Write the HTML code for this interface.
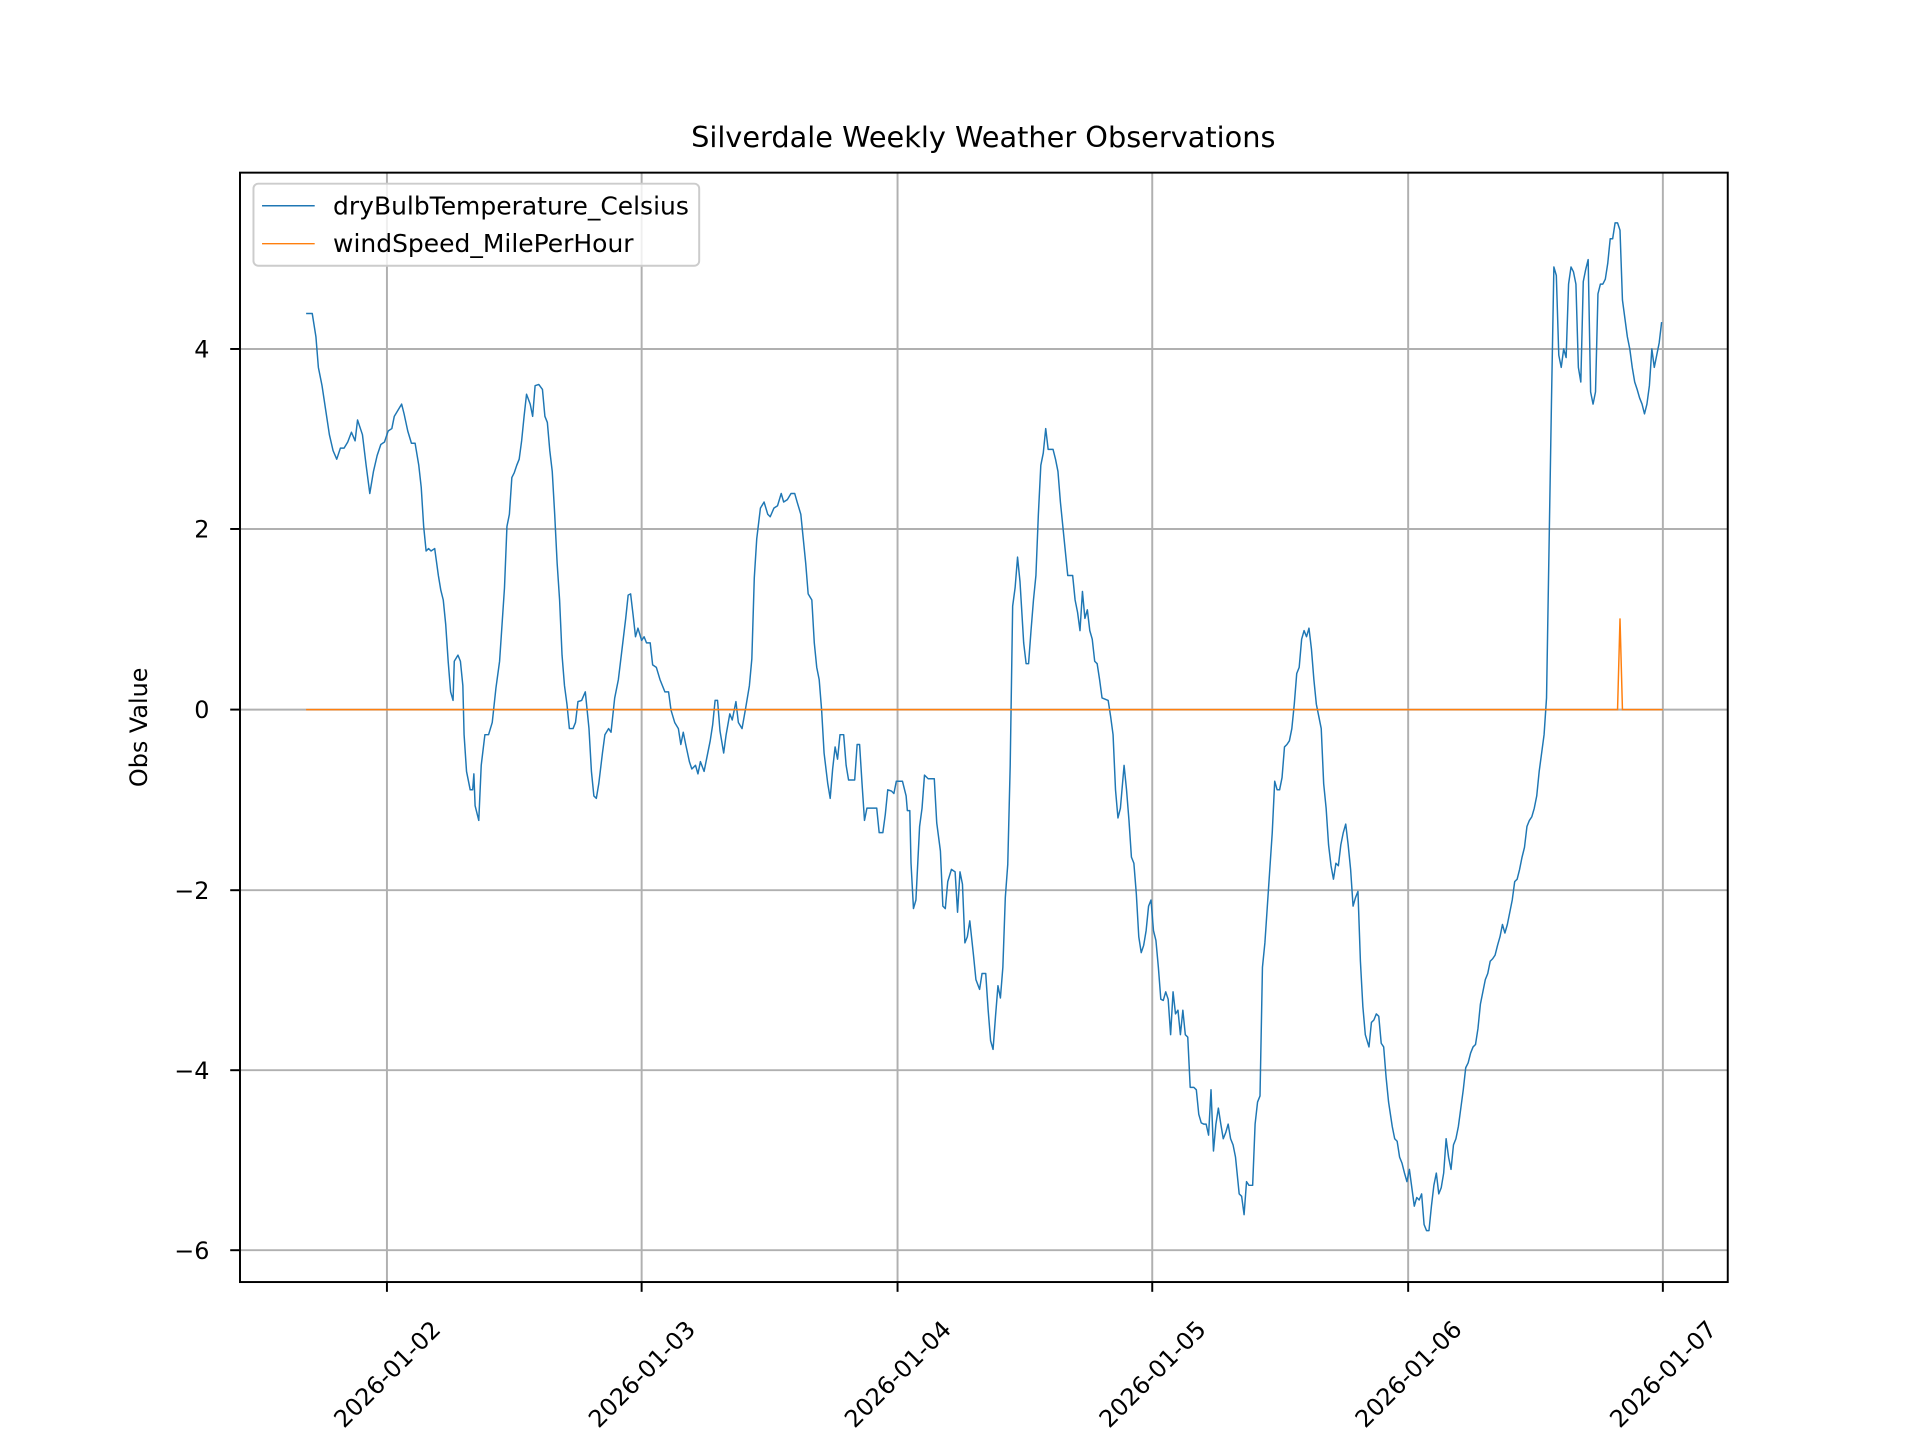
<!DOCTYPE html>
<html><head><meta charset="utf-8"><style>html,body{margin:0;padding:0;background:#fff}svg{display:block}</style></head>
<body>
<svg width="1920" height="1440" viewBox="0 0 1568 1176" xmlns="http://www.w3.org/2000/svg" font-family="'DejaVu Sans','Liberation Sans',sans-serif">
<rect width="1568" height="1176" fill="#fff"/>
<g stroke="#b0b0b0" stroke-width="1.6">
<line x1="316" y1="141" x2="316" y2="1047"/><line x1="524" y1="141" x2="524" y2="1047"/><line x1="733" y1="141" x2="733" y2="1047"/><line x1="941" y1="141" x2="941" y2="1047"/><line x1="1150" y1="141" x2="1150" y2="1047"/><line x1="1358" y1="141" x2="1358" y2="1047"/>
<line x1="196" y1="285" x2="1411" y2="285"/><line x1="196" y1="432" x2="1411" y2="432"/><line x1="196" y1="579.5" x2="1411" y2="579.5"/><line x1="196" y1="727" x2="1411" y2="727"/><line x1="196" y1="874" x2="1411" y2="874"/><line x1="196" y1="1021" x2="1411" y2="1021"/>
</g>
<polyline fill="none" stroke="#1f77b4" stroke-width="1.2" stroke-linejoin="round" points="250,256 255,256 258,275 260,300 263,315 266,335 269,355 272,368 275,375 278,366 281,366 284,361 287,353 290,360 292,343 296,355 299,380 302,403 305,385 308,372 311,363 314,361 317,352 320,350 322,340 325,335 328,330 330,338 333,352 336,362 339,362 342,380 344,398 346,430 348,450 350,448 352,450 355,448 358,470 360,482 362,490 364,510 366,540 368,565 370,572 371,540 374,535 376,540 378,560 379,600 381,630 384,645 386,645 387,632 388,658 391,670 393,625 396,600 399,600 402,590 405,562 408,540 410,510 412,480 414,430 416,420 418,390 420,386 422,380 424,375 426,360 428,340 430,322 433,330 435,340 437,315 440,314 443,318 445,340 447,345 449,368 451,385 453,420 455,460 457,490 459,535 461,560 463,575 465,595 468,595 470,590 472,573 475,572 478,565 481,595 483,630 485,650 487,652 489,640 492,615 494,600 497,595 499,598 502,570 505,555 508,530 511,505 513,486 515,485 517,502 519,520 521,513 524,523 526,520 528,525 531,525 533,543 536,545 539,555 541,560 543,565 546,565 548,580 551,590 554,595 556,608 558,598 560,608 563,622 565,628 568,625 570,632 572,622 575,630 577,620 580,605 582,592 584,572 586,572 588,597 591,615 593,600 596,583 598,588 601,573 603,590 606,595 609,578 612,560 614,538 616,472 618,440 621,415 624,410 627,420 629,422 632,415 635,413 638,403 640,410 643,408 646,403 649,403 651,410 654,420 656,440 658,460 660,485 663,490 665,525 667,545 669,555 671,580 673,615 676,640 678,652 680,628 682,610 684,620 686,600 689,600 691,625 693,637 698,637 700,608 702,608 704,640 706,670 708,660 716,660 718,680 721,680 723,665 725,645 728,646 730,648 732,638 737,638 740,650 741,662 743,662 744,705 746,742 748,735 751,675 753,660 755,633 758,636 763,636 765,672 768,695 770,740 772,742 774,720 777,710 780,712 782,745 784,712 786,722 788,770 790,765 792,752 795,780 797,800 800,808 802,795 805,795 807,825 809,850 811,857 813,830 815,805 817,815 819,790 821,733 823,706 825,625 827,495 829,480 831,455 833,475 836,525 838,542 840,542 842,515 844,490 846,470 848,420 850,380 852,370 854,350 856,367 858,367 860,367 862,375 864,385 866,410 868,430 870,450 872,470 876,470 878,490 880,500 882,515 884,483 886,505 888,498 890,515 892,522 894,540 896,542 898,555 900,570 905,572 907,585 909,600 911,645 913,668 915,660 918,625 920,645 922,670 924,700 926,705 928,730 930,765 932,778 934,772 936,760 938,740 940,735 942,760 944,768 946,790 948,816 950,817 952,810 954,816 956,845 958,810 960,828 962,825 964,845 966,825 968,845 970,847 972,888 975,888 977,890 979,910 981,917 983,918 985,918 987,927 989,890 991,940 993,918 995,905 997,918 999,930 1001,925 1003,918 1005,930 1007,935 1009,945 1012,975 1014,977 1016,992 1018,965 1020,968 1023,968 1025,918 1027,900 1029,895 1031,790 1033,770 1035,740 1037,710 1039,680 1041,638 1043,645 1045,645 1047,635 1049,610 1051,608 1053,605 1055,595 1057,575 1059,550 1061,545 1063,522 1065,515 1067,520 1069,513 1071,530 1073,555 1075,575 1077,585 1079,595 1081,640 1083,660 1085,690 1087,707 1089,718 1091,705 1093,707 1095,690 1097,680 1099,673 1101,690 1103,710 1105,740 1107,733 1109,728 1111,785 1113,822 1115,845 1118,855 1120,835 1122,833 1124,828 1126,830 1128,852 1130,855 1132,880 1134,900 1137,920 1139,930 1141,932 1143,945 1145,950 1147,958 1149,965 1151,955 1153,970 1155,985 1157,978 1159,980 1161,975 1163,1000 1165,1005 1167,1005 1169,985 1171,968 1173,958 1175,975 1177,970 1179,958 1181,930 1183,945 1185,955 1187,935 1189,930 1191,920 1193,905 1195,890 1197,872 1199,868 1201,860 1203,855 1205,853 1207,840 1209,820 1211,810 1213,800 1215,795 1217,785 1219,783 1221,780 1223,772 1225,765 1227,755 1229,762 1231,755 1233,745 1235,735 1237,720 1239,718 1241,710 1243,700 1245,692 1247,675 1249,670 1251,667 1253,660 1255,650 1257,630 1259,615 1261,600 1263,570 1265,450 1267,330 1269,218 1271,225 1273,290 1275,300 1277,285 1279,292 1281,232 1283,218 1285,222 1287,232 1289,300 1291,312 1293,230 1295,220 1297,212 1299,320 1301,330 1303,320 1305,240 1307,232 1309,232 1311,228 1313,215 1315,195 1317,195 1319,182 1321,182 1323,188 1325,245 1327,260 1329,275 1331,285 1333,300 1335,312 1337,318 1339,325 1341,330 1343,338 1345,330 1347,315 1349,285 1351,300 1353,290 1355,280 1357,263"/>
<polyline fill="none" stroke="#ff7f0e" stroke-width="1.2" points="250,579.5 1321,579.5 1323,505 1325,579.5 1358,579.5"/>
<rect x="196" y="141" width="1215" height="906" fill="none" stroke="#000" stroke-width="1.6"/>
<g stroke="#000" stroke-width="1.6">
<line x1="316" y1="1047" x2="316" y2="1055"/><line x1="524" y1="1047" x2="524" y2="1055"/><line x1="733" y1="1047" x2="733" y2="1055"/><line x1="941" y1="1047" x2="941" y2="1055"/><line x1="1150" y1="1047" x2="1150" y2="1055"/><line x1="1358" y1="1047" x2="1358" y2="1055"/>
<line x1="188" y1="285" x2="196" y2="285"/><line x1="188" y1="432" x2="196" y2="432"/><line x1="188" y1="579.5" x2="196" y2="579.5"/><line x1="188" y1="727" x2="196" y2="727"/><line x1="188" y1="874" x2="196" y2="874"/><line x1="188" y1="1021" x2="196" y2="1021"/>
</g>
<g font-size="19.5" text-anchor="end" fill="#000">
<text x="171" y="292">4</text><text x="171" y="439">2</text><text x="171" y="586.5">0</text><text x="171" y="734">−2</text><text x="171" y="881">−4</text><text x="171" y="1028">−6</text>
</g>
<g font-size="19.5" text-anchor="middle" fill="#000">
<text transform="translate(316,1122) rotate(-45)" dy="7">2026-01-02</text>
<text transform="translate(524,1122) rotate(-45)" dy="7">2026-01-03</text>
<text transform="translate(733,1122) rotate(-45)" dy="7">2026-01-04</text>
<text transform="translate(941,1122) rotate(-45)" dy="7">2026-01-05</text>
<text transform="translate(1150,1122) rotate(-45)" dy="7">2026-01-06</text>
<text transform="translate(1358,1122) rotate(-45)" dy="7">2026-01-07</text>
</g>
<text transform="translate(120,594) rotate(-90)" font-size="19.5" text-anchor="middle">Obs Value</text>
<text x="803" y="120" font-size="23.5" text-anchor="middle">Silverdale Weekly Weather Observations</text>
<rect x="207" y="150" width="364" height="67" rx="4" fill="#fff" fill-opacity="0.8" stroke="#ccc" stroke-width="1.6"/>
<line x1="214" y1="168" x2="257" y2="168" stroke="#1f77b4" stroke-width="1.2"/>
<line x1="214" y1="199" x2="257" y2="199" stroke="#ff7f0e" stroke-width="1.2"/>
<text x="272" y="175" font-size="20.4">dryBulbTemperature_Celsius</text>
<text x="272" y="206" font-size="20.4">windSpeed_MilePerHour</text>
</svg>
</body></html>
